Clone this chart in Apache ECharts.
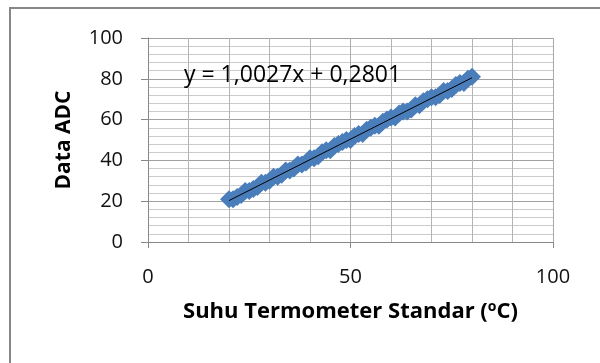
<!DOCTYPE html>
<html>
<head>
<meta charset="utf-8">
<script src="https://cdn.jsdelivr.net/npm/echarts@6/dist/echarts.min.js"></script>
<style>
  html, body { margin: 0; padding: 0; background: #fff; }
  #chart { width: 600px; height: 363px; }
</style>
</head>
<body>
<div id="chart"></div>
<script>
// suhu termometer standar (x) and data ADC (y)
var suhu = [20, 21, 22, 23, 24, 25, 26, 27, 28, 29, 30, 31, 32, 33, 34, 35, 36, 37, 38, 39,
  40, 41, 42, 43, 44, 45, 46, 47, 48, 49, 50, 51, 52, 53, 54, 55, 56, 57, 58, 59,
  60, 61, 62, 63, 64, 65, 66, 67, 68, 69, 70, 71, 72, 73, 74, 75, 76, 77, 78, 79, 80];
var adc = [21, 21, 22, 23, 25, 25, 26, 27, 29, 29, 30, 32, 32, 33, 35, 35, 36, 38, 38, 39,
  41, 41, 42, 44, 45, 45, 47, 48, 49, 50, 50, 52, 53, 53, 55, 56, 57, 57, 59, 60,
  61, 61, 63, 64, 64, 65, 67, 67, 69, 70, 71, 71, 72, 74, 74, 75, 77, 78, 78, 80, 81];
// trendline ends
var trendX = [20, 80];
var trendY = [20.3, 80.5];
var persamaan = "y = 1,0027x + 0,2801";

var font = "'Open Sans', 'Liberation Sans', sans-serif";

var chart = echarts.init(document.getElementById("chart"));

var option = {
  animation: false,
  backgroundColor: "#fff",
  grid: { left: 148, top: 38, width: 405, height: 204 },
  graphic: [
    {
      type: "rect",
      shape: { x: 10, y: 8, width: 640, height: 420 },
      style: { fill: "none", stroke: "#878787", lineWidth: 2 },
      silent: true
    },
    {
      type: "text",
      x: 184, y: 75,
      z: 10,
      style: {
        text: persamaan,
        font: "23px " + font,
        fill: "#000",
        verticalAlign: "middle"
      }
    }
  ],
  xAxis: {
    type: "value",
    min: 0, max: 100, interval: 50,
    name: "{a|Suhu Termometer Standar (}{s|o}{a|C)}",
    nameLocation: "middle",
    nameGap: 58,
    nameTextStyle: {
      rich: {
        a: { fontFamily: font, fontSize: 22, fontWeight: "bold", color: "#000" },
        s: { fontFamily: font, fontSize: 14, fontWeight: "bold", color: "#000", verticalAlign: "top", padding: [0, 0, 9, 0] }
      }
    },
    axisLine: { show: true, lineStyle: { color: "#888", width: 1 } },
    axisTick: { show: true, inside: false, length: 6, lineStyle: { color: "#888" } },
    axisLabel: { margin: 25, fontFamily: font, fontSize: 20, color: "#111" },
    splitLine: { show: true, lineStyle: { color: "#ababab", width: 1 } },
    minorTick: { show: false, splitNumber: 5 },
    minorSplitLine: { show: true, lineStyle: { color: "#b4b4b4", width: 1 } }
  },
  yAxis: {
    type: "value",
    min: 0, max: 100, interval: 20,
    name: "Data ADC",
    nameLocation: "middle",
    nameGap: 73,
    nameTextStyle: { fontFamily: font, fontSize: 21, fontWeight: "bold", color: "#000" },
    axisLine: { show: true, lineStyle: { color: "#888", width: 1 } },
    axisTick: { show: true, inside: false, length: 7, lineStyle: { color: "#888" } },
    axisLabel: { margin: 25, fontFamily: font, fontSize: 20, color: "#111" },
    splitLine: { show: true, lineStyle: { color: "#a0a0a0", width: 1 } },
    minorTick: { show: false, splitNumber: 5 },
    minorSplitLine: { show: true, lineStyle: { color: "#cbcbcb", width: 1 } }
  },
  series: [
    {
      name: "Data ADC",
      type: "scatter",
      symbol: "diamond",
      symbolSize: 18,
      itemStyle: { color: "#4A7EBB", opacity: 1 },
      data: suhu.map(function (x, i) { return [x, adc[i]]; }),
      z: 2
    },
    {
      name: "Linear",
      type: "line",
      symbol: "none",
      lineStyle: { color: "#000", width: 1 },
      data: trendX.map(function (x, i) { return [x, trendY[i]]; }),
      z: 3
    }
  ]
};

chart.setOption(option);
</script>
</body>
</html>
